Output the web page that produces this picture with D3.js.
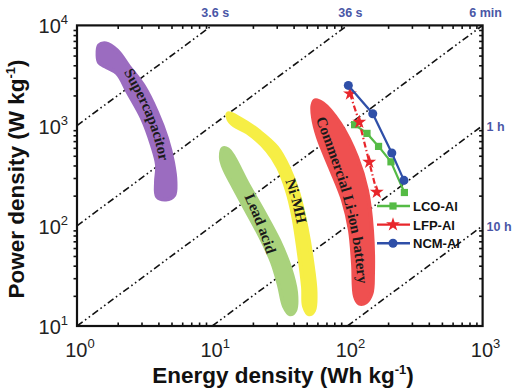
<!DOCTYPE html>
<html>
<head>
<meta charset="utf-8">
<title>Ragone plot</title>
<script src="https://cdnjs.cloudflare.com/ajax/libs/d3/7.8.5/d3.min.js"></script>
<style>
body {
  margin: 0;
  background: #fff;
}
svg {
  display: block;
  font-family: "Liberation Sans", Arial, sans-serif;
}
.band-label {
  font-family: "Liberation Serif", "Times New Roman", serif;
  font-weight: bold;
  font-size: 15px;
  fill: #1a1a1a;
}
.time-label {
  font-weight: bold;
  font-size: 12.5px;
  fill: #4a57a6;
}
.tick-label {
  font-size: 20px;
  fill: #222;
}
.axis-title {
  font-weight: bold;
  font-size: 22.5px;
  fill: #111;
}
.legend text {
  font-weight: bold;
  font-size: 13px;
  fill: #111;
}
</style>
</head>
<body>
<script>
// regions of the Ragone plot, outlines as [Wh/kg, W/kg]
var superCap = [[1.42,5020],[1.455,6310],[1.64,6610],[1.98,5620],[2.42,3900],[3.13,2460],
  [3.91,1356],[4.63,745],[5.13,430],[5.35,271],[5.22,201],[4.55,183],[3.91,196],[3.84,271],
  [3.91,401],[3.59,634],[3.03,1180],[2.38,2140],[1.98,3320],[1.61,3900],[1.455,4280]];
var niMH = [[13.1,1325],[16.05,1180],[22.6,865],[30.2,605],[36.7,383],[43.5,210],[49.8,96.4],
  [54.7,45.2],[58.1,21.6],[56.6,14.3],[52.0,13.1],[47.8,15.7],[47.0,24.3],[43.5,56.8],
  [39.9,121],[35.7,225],[30.7,383],[25.4,566],[18.1,855],[14.5,1005],[13.2,1153]];
var leadAcid = [[12.0,592],[13.1,579],[14.5,482],[18.1,271],[24.2,136],[31.2,71.4],[37.6,38.5],
  [41.7,21.6],[41.0,14.3],[37.6,13.1],[34.0,15.7],[31.2,25.4],[27.7,43.2],[22.6,78.3],
  [17.5,149],[14.3,247],[12.2,374],[11.6,482]];
var liIon = [[57.6,1785],[66.0,1666],[88.2,1052],[117.8,482],[139.6,225],[152,89.9],[154.6,33.5],
  [150.7,21.1],[137.3,17.2],[121.9,16.8],[113.8,19.7],[110,42.2],[104.5,89.9],[92.8,179],
  [74.3,383],[60.6,762],[55.7,1208],[55.2,1591]];

// guide lines for the region names
var superCapText = [[2.23,4280],[2.78,2520],[3.47,1356],[4.11,711],[4.55,374]];
var niMHText = [[34.0,430],[40.3,225],[45.4,119],[48.6,71.4]];
var leadAcidText = [[17.5,253],[21.1,143],[25.0,80.2],[29.1,43.2]];
var liIonText = [[60.6,1419],[78.3,566],[101,201],[119.8,71.4],[132.7,22.6]];

var regions = [
  {name: "Supercapacitor", outline: superCap, guide: superCapText, color: "#9b6cc0"},
  {name: "Lead acid", outline: leadAcid, guide: leadAcidText, color: "#a9d27c"},
  {name: "Ni-MH", outline: niMH, guide: niMHText, color: "#f6ee45"},
  {name: "Commercial Li-ion battery", outline: liIon, guide: liIonText, color: "#ef5050"}
];

// cells
var lcoE = [113, 139.6, 170, 210, 264];
var lcoP = [1021, 836, 620, 435, 215];
var lfpE = [104.5, 122.5, 145, 165];
var lfpP = [2080, 1084, 433, 217];
var ncmE = [101.6, 154, 213, 262];
var ncmP = [2518, 1315, 532, 284];

var series = [
  {name: "LCO-Al", e: lcoE, p: lcoP, color: "#55bb45", symbol: d3.symbolSquare, size: 52, dash: null},
  {name: "LFP-Al", e: lfpE, p: lfpP, color: "#e8262b", symbol: d3.symbolStar, size: 60, dash: "6,2.5,1.5,2.5"},
  {name: "NCM-Al", e: ncmE, p: ncmP, color: "#2f4fa8", symbol: d3.symbolCircle, size: 64, dash: null}
];

// discharge time lines, hours
var timeHours = [0.001, 0.01, 0.1, 1, 10];
var timeLabels = ["3.6 s", "36 s", "6 min", "1 h", "10 h"];

var xTicks = [1, 10, 100, 1000];
var yTicks = [10, 100, 1000, 10000];

var width = 514, height = 390;

var x = d3.scaleLog().domain([1, 1000]).range([77, 482.6]);
var y = d3.scaleLog().domain([10, 10000]).range([326, 25.4]);

var svg = d3.select("body").append("svg")
  .attr("width", width)
  .attr("height", height);

function minors(dom) {
  var out = [];
  for (var d = dom[0]; d < dom[1]; d *= 10)
    for (var k = 2; k < 10; k++) out.push(d * k);
  return out;
}

function pt(d) { return [x(d[0]), y(d[1])]; }

// time lines
var tlines = svg.append("g");
timeHours.forEach(function(t, i) {
  var e0 = Math.max(1, 10 * t), e1 = Math.min(1000, 10000 * t);
  tlines.append("line")
    .attr("x1", x(e0)).attr("y1", y(e0 / t))
    .attr("x2", x(e1)).attr("y2", y(e1 / t))
    .attr("stroke", "#111")
    .attr("stroke-width", 1.6)
    .attr("stroke-dasharray", "7,3,1.6,3,1.6,3");
  var lab = svg.append("text").attr("class", "time-label").text(timeLabels[i]);
  if (e1 / t >= 9999) {
    lab.attr("x", x(e1) + 3).attr("y", 17).attr("text-anchor", "middle");
  } else {
    lab.attr("x", x(e1) + 4).attr("y", y(e1 / t) + 5);
  }
});

// regions
var line = d3.line().curve(d3.curveCatmullRomClosed.alpha(0.5));
var guideLine = d3.line().curve(d3.curveCatmullRom.alpha(0.5));

var reg = svg.append("g");
regions.forEach(function(r, i) {
  reg.append("path")
    .attr("d", line(r.outline.map(pt)))
    .attr("fill", r.color)
    .attr("stroke", r.color)
    .attr("stroke-width", 4)
    .attr("stroke-linejoin", "round");
  reg.append("path")
    .attr("id", "guide" + i)
    .attr("d", guideLine(r.guide.map(pt)))
    .attr("fill", "none");
  reg.append("text")
    .attr("class", "band-label")
    .attr("dy", "0.35em")
    .append("textPath")
      .attr("href", "#guide" + i)
      .attr("startOffset", "50%")
      .attr("text-anchor", "middle")
      .text(r.name);
});

// series
series.forEach(function(s) {
  var pts = s.e.map(function(e, i) { return [x(e), y(s.p[i])]; });
  svg.append("path")
    .attr("d", d3.line()(pts))
    .attr("fill", "none")
    .attr("stroke", s.color)
    .attr("stroke-width", 2.2)
    .attr("stroke-dasharray", s.dash);
  svg.selectAll(null).data(pts).enter().append("path")
    .attr("transform", function(d) { return "translate(" + d[0] + "," + d[1] + ")"; })
    .attr("d", d3.symbol().type(s.symbol).size(s.size))
    .attr("fill", s.color);
});

// axes
var xMinor = minors([1, 1000]), yMinor = minors([10, 10000]);
var gBottom = svg.append("g").attr("transform", "translate(0,326)");
gBottom.call(d3.axisBottom(x).tickValues(xTicks).tickSize(-6).tickFormat(""));
gBottom.call(d3.axisBottom(x).tickValues(xMinor).tickSize(-3.5).tickFormat(""));
var gTop = svg.append("g").attr("transform", "translate(0,25.4)");
gTop.call(d3.axisTop(x).tickValues(xTicks).tickSize(-6).tickFormat(""));
gTop.call(d3.axisTop(x).tickValues(xMinor).tickSize(-3.5).tickFormat(""));
var gLeft = svg.append("g").attr("transform", "translate(77,0)");
gLeft.call(d3.axisLeft(y).tickValues(yTicks).tickSize(6).tickFormat(""));
gLeft.call(d3.axisLeft(y).tickValues(yMinor).tickSize(3.5).tickFormat(""));
var gRight = svg.append("g").attr("transform", "translate(482.6,0)");
gRight.call(d3.axisRight(y).tickValues(yTicks).tickSize(-6).tickFormat(""));
gRight.call(d3.axisRight(y).tickValues(yMinor).tickSize(-3.5).tickFormat(""));
svg.selectAll(".domain").remove();
svg.selectAll(".tick line").attr("stroke", "#111").attr("stroke-width", 1.6);

svg.append("rect")
  .attr("x", 77).attr("y", 25.4)
  .attr("width", 482.6 - 77).attr("height", 326 - 25.4)
  .attr("fill", "none")
  .attr("stroke", "#111")
  .attr("stroke-width", 2.2);

// tick labels
xTicks.forEach(function(v) {
  var t = svg.append("text").attr("class", "tick-label")
    .attr("x", x(v) + 3).attr("y", 356.5).attr("text-anchor", "middle");
  t.append("tspan").text("10");
  t.append("tspan").attr("dy", -9).attr("font-size", 13).text(Math.round(Math.log10(v)));
});
yTicks.forEach(function(v) {
  var t = svg.append("text").attr("class", "tick-label")
    .attr("x", 68).attr("y", y(v) + 8).attr("text-anchor", "end");
  t.append("tspan").text("10");
  t.append("tspan").attr("dy", -9).attr("font-size", 13).text(Math.round(Math.log10(v)));
});

// axis titles
var xt = svg.append("text").attr("class", "axis-title")
  .attr("x", 283).attr("y", 383).attr("text-anchor", "middle");
xt.append("tspan").text("Energy density (Wh kg");
xt.append("tspan").attr("dy", -9).attr("font-size", 13).text("-1");
xt.append("tspan").attr("dy", 9).text(")");

var yt = svg.append("text").attr("class", "axis-title")
  .attr("transform", "translate(24,179) rotate(-90)")
  .attr("text-anchor", "middle");
yt.append("tspan").text("Power density (W kg");
yt.append("tspan").attr("dy", -9).attr("font-size", 13).text("-1");
yt.append("tspan").attr("dy", 9).text(")");

// legend
var legend = svg.append("g").attr("class", "legend");
series.forEach(function(s, i) {
  var ly = 206 + i * 18.6;
  legend.append("line")
    .attr("x1", 377).attr("x2", 410).attr("y1", ly).attr("y2", ly)
    .attr("stroke", s.color).attr("stroke-width", 2.4);
  legend.append("path")
    .attr("transform", "translate(393," + ly + ")")
    .attr("d", d3.symbol().type(s.symbol).size(s.size))
    .attr("fill", s.color);
  legend.append("text").attr("x", 413).attr("y", ly + 5).text(s.name);
});
</script>
</body>
</html>
